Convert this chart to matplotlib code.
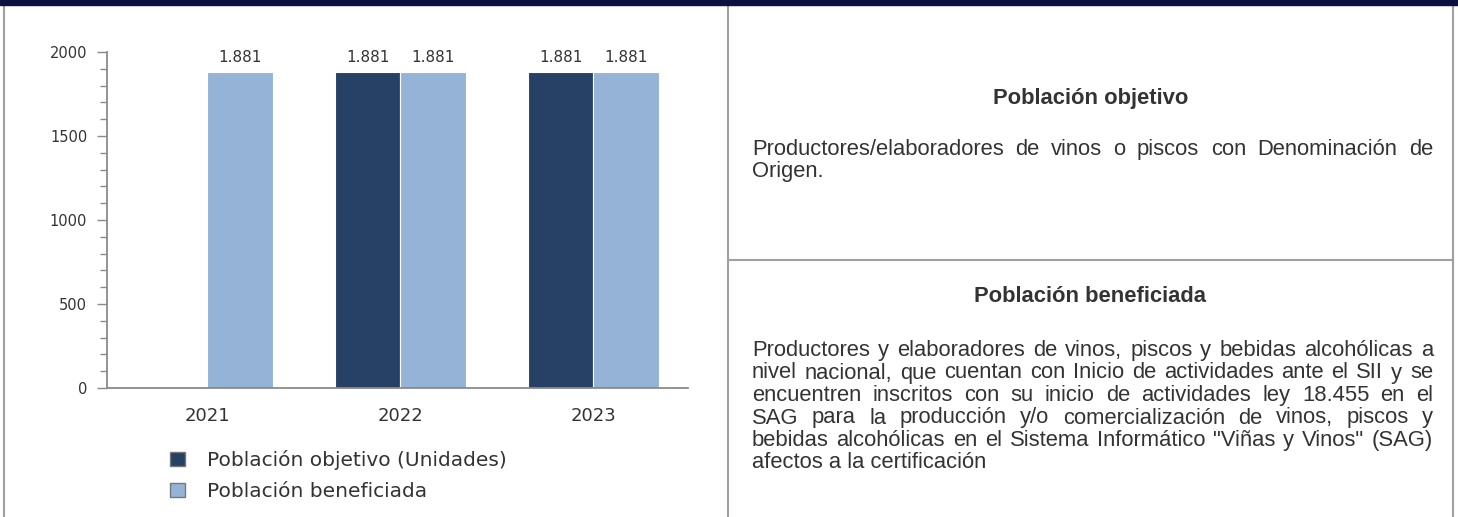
import numpy as np
import matplotlib
matplotlib.use("Agg")
import matplotlib.pyplot as plt
from matplotlib.lines import Line2D
from matplotlib.patches import Rectangle, Patch

# ---- data ----
years = ["2021", "2022", "2023"]
poblacion_objetivo = [None, 1881, 1881]
poblacion_beneficiada = [1881, 1881, 1881]
series_names = ["Población objetivo (Unidades)", "Población beneficiada"]
y_ticks = [0, 500, 1000, 1500, 2000]

title_objetivo = "Población objetivo"
lines_objetivo = [
    "Productores/elaboradores de vinos o piscos con Denominación de",
    "Origen.",
]
title_beneficiada = "Población beneficiada"
lines_beneficiada = [
    "Productores y elaboradores de vinos, piscos y bebidas alcohólicas a",
    "nivel nacional, que cuentan con Inicio de actividades ante el SII y se",
    "encuentren inscritos con su inicio de actividades ley 18.455 en el",
    "SAG para la producción y/o comercialización de vinos, piscos y",
    "bebidas alcohólicas en el Sistema Informático \"Viñas y Vinos\" (SAG)",
    "afectos a la certificación",
]

DARK = "#264066"
LIGHT = "#95b3d7"
TXT = "#333333"
BORDER = "#a0a0a0"

W, H = 1458, 517
fig = plt.figure(figsize=(W / 100, H / 100), dpi=100)


def fx(x):
    return x / W


def fy(y):
    return 1 - y / H


# ---- frame ----
fig.add_artist(Rectangle((0, fy(5)), 1, 5 / H, transform=fig.transFigure,
                         color="#0c1040", zorder=5))
for xb in (3.5, 728, 1453):
    fig.add_artist(Line2D([fx(xb), fx(xb)], [fy(5), 0], transform=fig.transFigure,
                          color=BORDER, lw=1.5))
fig.add_artist(Line2D([fx(728), fx(1453)], [fy(260), fy(260)],
                      transform=fig.transFigure, color=BORDER, lw=1.5))

# ---- chart ----
ax = fig.add_axes([fx(107), fy(388), (688 - 107) / W, (388 - 52) / H])
x = np.arange(len(years))
w = 0.34
obj = np.array([np.nan if v is None else v for v in poblacion_objetivo], float)
ben = np.array(poblacion_beneficiada, float)
b1 = ax.bar(x - w / 2, np.nan_to_num(obj), w, color=DARK, edgecolor="white", lw=0.8)
b2 = ax.bar(x + w / 2, ben, w, color=LIGHT, edgecolor="white", lw=0.8)


def fmt(v):
    return "" if np.isnan(v) else f"{v:,.0f}".replace(",", ".")


ax.bar_label(b1, labels=[fmt(v) for v in obj], padding=5, fontsize=11, color=TXT)
ax.bar_label(b2, labels=[fmt(v) for v in ben], padding=5, fontsize=11, color=TXT)

ax.set_xlim(-0.52, 2.49)
ax.set_ylim(0, 2000)
ax.set_xticks(x, years)
ax.set_yticks(y_ticks)
ax.set_yticks(np.arange(0, 2001, 100), minor=True)
for s in ("top", "right"):
    ax.spines[s].set_visible(False)
for s in ("left", "bottom"):
    ax.spines[s].set_color("#8a8a8a")
    ax.spines[s].set_linewidth(1.3)
ax.tick_params(axis="y", which="major", length=7.2, color="#8a8a8a", width=1,
               labelsize=10.5, labelcolor=TXT, pad=7)
ax.tick_params(axis="y", which="minor", length=5, color="#8a8a8a", width=1)
ax.tick_params(axis="x", length=0, labelsize=13, labelcolor=TXT, pad=14)
ax.set_facecolor("none")

handles = [Patch(facecolor=DARK, edgecolor="#777777", lw=1),
           Patch(facecolor=LIGHT, edgecolor="#777777", lw=1)]
fig.legend(handles, series_names, loc="upper left",
           bbox_to_anchor=(fx(170), fy(450)), frameon=False, fontsize=14.5,
           handlelength=0.75, handleheight=0.7, handletextpad=1.1,
           labelspacing=0.62, labelcolor=TXT, borderpad=0, borderaxespad=0)

# ---- right panel text ----
FONT = "Liberation Sans"
FS = 15.8
renderer = fig.canvas.get_renderer()


def justified(lines, x0, x1, y0, dy):
    for i, line in enumerate(lines):
        y = y0 + i * dy
        words = line.split(" ")
        if i == len(lines) - 1:
            fig.text(fx(x0), fy(y), line, fontsize=FS, family=FONT, color=TXT,
                     ha="left", va="baseline")
            continue
        widths = []
        objs = []
        for wd in words:
            t = fig.text(fx(x0), fy(y), wd, fontsize=FS, family=FONT, color=TXT,
                         ha="left", va="baseline")
            widths.append(t.get_window_extent(renderer).width)
            objs.append(t)
        gap = (x1 - x0 - sum(widths)) / (len(words) - 1)
        cx = x0
        for t, wd in zip(objs, widths):
            t.set_x(fx(cx))
            cx += wd + gap


cxm = (728 + 1453) / 2
fig.text(fx(cxm), fy(104), title_objetivo, fontsize=FS, family=FONT,
         weight="bold", color=TXT, ha="center", va="baseline")
justified(lines_objetivo, 752, 1433, 155, 22.5)
fig.text(fx(cxm), fy(302), title_beneficiada, fontsize=FS, family=FONT,
         weight="bold", color=TXT, ha="center", va="baseline")
justified(lines_beneficiada, 752, 1433, 356, 22.5)

fig.savefig("out.png", dpi=100, facecolor="white")
